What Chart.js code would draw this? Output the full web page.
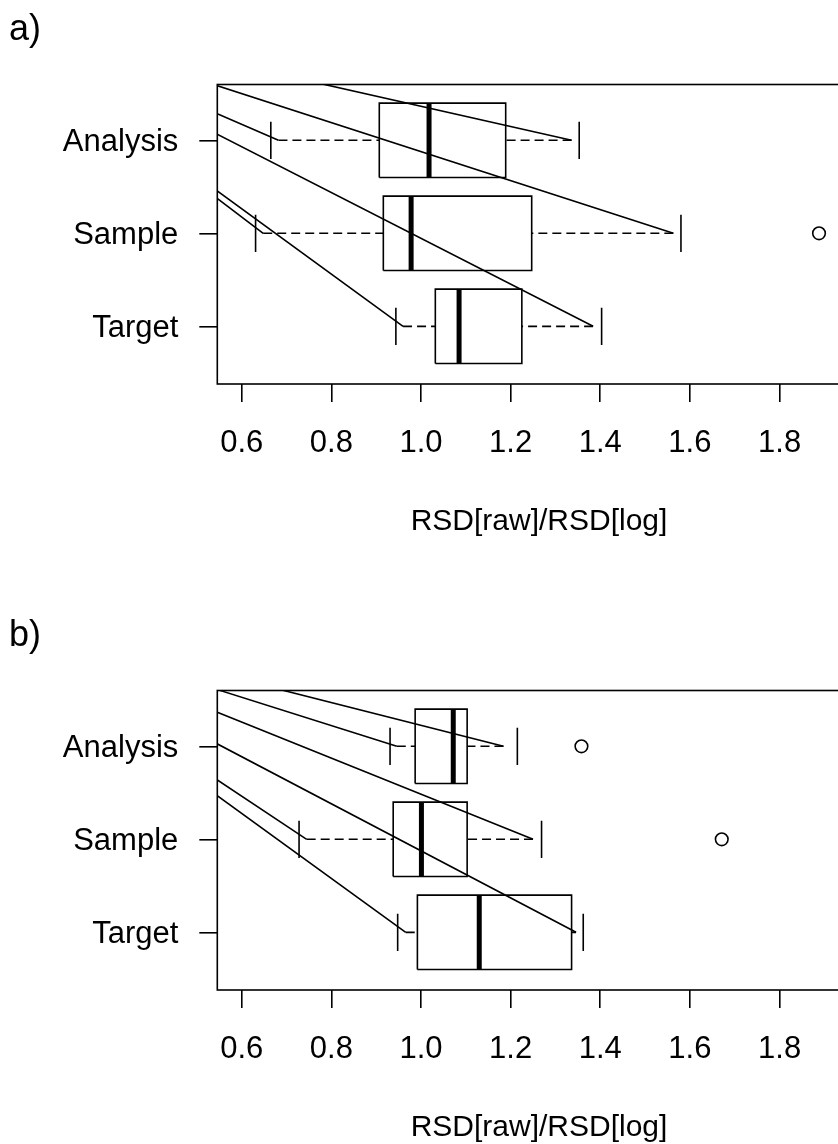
<!DOCTYPE html>
<html>
<head>
<meta charset="utf-8">
<script src="https://cdn.jsdelivr.net/npm/chart.js@4/dist/chart.umd.min.js"></script>
<style>
  html, body { margin: 0; padding: 0; background: #fff; }
  body { width: 838px; height: 1144px; overflow: hidden; position: relative; }
  canvas { position: absolute; left: 0; }
  #panelA { top: 0; }
  #panelB { top: 606px; }
</style>
</head>
<body>
<canvas id="panelA" width="880" height="560"></canvas>
<canvas id="panelB" width="880" height="560"></canvas>
<script>
// groups from bottom to top, as R lays out a horizontal boxplot
const groups = ['Target', 'Sample', 'Analysis'];
const positions = [1, 2, 3];

const xTicks = [0.6, 0.8, 1.0, 1.2, 1.4, 1.6, 1.8];
const xTickLabels = ['0.6', '0.8', '1.0', '1.2', '1.4', '1.6', '1.8'];
const xMin = 0.5456;
const xMax = 1.981;
const yMin = 0.38;
const yMax = 3.60;

// panel a) values
const aLowCap = [0.944, 0.631, 0.665];
const aLowEnd = [0.960, 0.648, 0.682];
const aQ1 = [1.032, 0.916, 0.907];
const aMedian = [1.085, 0.978, 1.018];
const aQ3 = [1.225, 1.247, 1.189];
const aHighEnd = [1.384, 1.563, 1.336];
const aHighCap = [1.403, 1.580, 1.353];
const aOutliers = [[], [1.888], []];

// panel b)
const bLowCap = [0.948, 0.728, 0.931];
const bLowEnd = [0.966, 0.745, 0.946];
const bQ1 = [0.992, 0.938, 0.987];
const bMedian = [1.130, 1.001, 1.072];
const bQ3 = [1.336, 1.103, 1.103];
const bHighEnd = [1.346, 1.250, 1.184];
const bHighCap = [1.362, 1.269, 1.215];
const bOutliers = [[], [1.671], [1.358]];

// the stray lines all run from one point up-left outside the plot
const strayOrigin = { x: -0.033, y: 4.49 };

const boxHalf = 0.4;
const capHalf = 0.2;
const LW = 1.6;
const FONT = '"Liberation Sans", Arial, sans-serif';
const GAP = { x: null, y: null };

const panelDecor = {
    id: 'panelDecor',
    afterDraw(chart, args, opts) {
        const { ctx, chartArea: a } = chart;
        ctx.save();
        ctx.strokeStyle = '#000';
        ctx.lineWidth = LW;
        ctx.strokeRect(a.left, a.top, a.right - a.left, a.bottom - a.top);
        ctx.fillStyle = '#000';
        ctx.font = `36px ${FONT}`;
        ctx.textBaseline = 'alphabetic';
        ctx.textAlign = 'left';
        ctx.fillText(opts.label, 9, 40);
        ctx.restore();
    }
};

function buildPanel(canvasId, label, s) {
    const boxPts = [], medPts = [], whiskPts = [], capPts = [], outPts = [], strayPts = [];
    positions.forEach((p, i) => {
        const lo = p - boxHalf, hi = p + boxHalf;
        boxPts.push({ x: s.q1[i], y: lo }, { x: s.q3[i], y: lo }, { x: s.q3[i], y: hi },
            { x: s.q1[i], y: hi }, { x: s.q1[i], y: lo }, GAP);
        medPts.push({ x: s.med[i], y: lo }, { x: s.med[i], y: hi }, GAP);
        whiskPts.push({ x: s.lowEnd[i], y: p }, { x: s.q1[i], y: p }, GAP,
            { x: s.highEnd[i], y: p }, { x: s.q3[i], y: p }, GAP);
        capPts.push({ x: s.lowCap[i], y: p - capHalf }, { x: s.lowCap[i], y: p + capHalf }, GAP,
            { x: s.highCap[i], y: p - capHalf }, { x: s.highCap[i], y: p + capHalf }, GAP);
        s.out[i].forEach(v => outPts.push({ x: v, y: p }));
        strayPts.push({ x: s.lowEnd[i], y: p }, strayOrigin, GAP,
            { x: s.highEnd[i], y: p }, strayOrigin, GAP);
    });

    const lineSet = (data, extra) => Object.assign({
        data, showLine: true, borderColor: '#000', borderWidth: LW,
        pointRadius: 0, fill: false, tension: 0, spanGaps: false
    }, extra || {});

    const tickFont = { family: FONT, size: 31 };
    const titleFont = { family: FONT, size: 30 };

    new Chart(document.getElementById(canvasId), {
        type: 'scatter',
        data: {
            datasets: [
                lineSet(strayPts),
                lineSet(whiskPts, { borderDash: [9, 5] }),
                lineSet(capPts),
                lineSet(boxPts),
                lineSet(medPts, { borderWidth: 5, borderCapStyle: 'butt' }),
                {
                    data: outPts, showLine: false, pointStyle: 'circle', pointRadius: 6.3,
                    pointBorderWidth: LW, pointBorderColor: '#000',
                    pointBackgroundColor: 'rgba(0,0,0,0)'
                }
            ]
        },
        options: {
            responsive: false,
            animation: false,
            events: [],
            layout: { padding: { left: 0, top: 84.5, right: 19.3, bottom: 0 } },
            plugins: {
                legend: { display: false },
                tooltip: { enabled: false },
                panelDecor: { label }
            },
            scales: {
                x: {
                    type: 'linear', min: xMin, max: xMax,
                    afterBuildTicks: sc => { sc.ticks = xTicks.map(v => ({ value: v })); },
                    afterFit: sc => { sc.height = 176; },
                    border: { display: false },
                    grid: { drawOnChartArea: false, drawTicks: true, tickLength: 18, color: '#000', lineWidth: LW },
                    ticks: {
                        callback: (v, i) => xTickLabels[i], font: tickFont, color: '#000',
                        padding: 22.9, maxRotation: 0, autoSkip: false
                    },
                    title: {
                        display: true, text: 'RSD[raw]/RSD[log]', font: titleFont, color: '#000',
                        padding: { top: 0, bottom: 20 }
                    }
                },
                y: {
                    type: 'linear', min: yMin, max: yMax,
                    afterBuildTicks: sc => { sc.ticks = positions.map(v => ({ value: v })); },
                    afterFit: sc => { sc.width = 217.3; },
                    border: { display: false },
                    grid: { drawOnChartArea: false, drawTicks: true, tickLength: 18, color: '#000', lineWidth: LW },
                    ticks: {
                        callback: (v, i) => groups[i], font: tickFont, color: '#000',
                        padding: 21, autoSkip: false, labelOffset: 2
                    }
                }
            }
        },
        plugins: [panelDecor]
    });
}

buildPanel('panelA', 'a)', {
    lowCap: aLowCap, lowEnd: aLowEnd, q1: aQ1, med: aMedian, q3: aQ3,
    highEnd: aHighEnd, highCap: aHighCap, out: aOutliers
});
buildPanel('panelB', 'b)', {
    lowCap: bLowCap, lowEnd: bLowEnd, q1: bQ1, med: bMedian, q3: bQ3,
    highEnd: bHighEnd, highCap: bHighCap, out: bOutliers
});
</script>
</body>
</html>
